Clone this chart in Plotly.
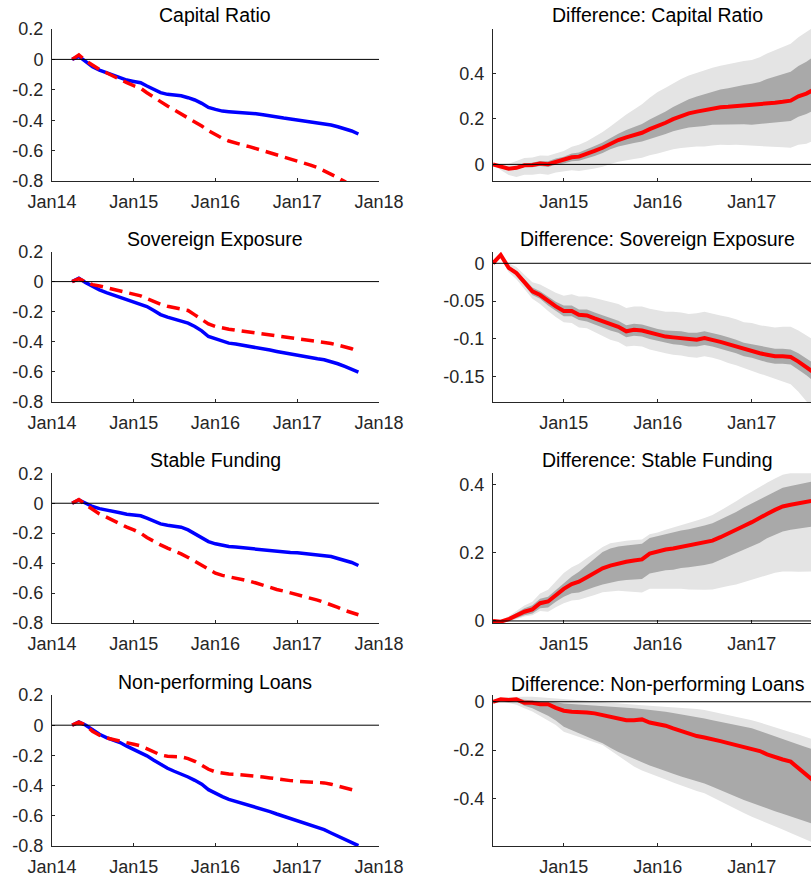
import plotly.graph_objects as go
import pandas as pd

W, H = 811, 881
FONT = "Liberation Sans, Arial, Helvetica, sans-serif"
TXT = "#262626"

# ---------------- data ----------------
left_dates = pd.date_range("2014-04-01", periods=43, freq="MS")
right_dates = left_dates[:42]

titles = ["Capital Ratio", "Sovereign Exposure", "Stable Funding", "Non-performing Loans"]
diff_titles = ["Difference: " + t for t in titles]

cap_blue = [0, 0.02, -0.015, -0.048, -0.07, -0.088, -0.105, -0.12, -0.136, -0.145, -0.153, -0.175, -0.197, -0.219, -0.23, -0.232, -0.239, -0.252, -0.267, -0.289, -0.316, -0.329, -0.34, -0.344, -0.346, -0.348, -0.353, -0.357, -0.364, -0.373, -0.379, -0.386, -0.392, -0.399, -0.405, -0.412, -0.416, -0.423, -0.432, -0.443, -0.456, -0.471, -0.491]
cap_red = [0, 0.03, -0.01, -0.04, -0.066, -0.088, -0.11, -0.136, -0.153, -0.173, -0.19, -0.219, -0.252, -0.278, -0.307, -0.333, -0.359, -0.381, -0.412, -0.438, -0.469, -0.497, -0.519, -0.537, -0.552, -0.563, -0.574, -0.587, -0.601, -0.618, -0.631, -0.644, -0.655, -0.668, -0.682, -0.695, -0.712, -0.732, -0.754, -0.778, -0.804, -0.83, -0.86]
sov_blue = [0, 0.022, -0.007, -0.033, -0.055, -0.073, -0.088, -0.106, -0.122, -0.135, -0.148, -0.166, -0.192, -0.219, -0.236, -0.248, -0.259, -0.276, -0.298, -0.327, -0.365, -0.382, -0.398, -0.409, -0.415, -0.422, -0.429, -0.435, -0.444, -0.455, -0.464, -0.473, -0.482, -0.488, -0.497, -0.504, -0.513, -0.519, -0.53, -0.546, -0.564, -0.581, -0.601]
sov_red = [0, 0.02, -0.002, -0.02, -0.029, -0.04, -0.051, -0.062, -0.073, -0.082, -0.095, -0.113, -0.133, -0.15, -0.164, -0.172, -0.179, -0.192, -0.221, -0.254, -0.281, -0.298, -0.309, -0.316, -0.323, -0.329, -0.336, -0.343, -0.349, -0.356, -0.362, -0.369, -0.376, -0.38, -0.385, -0.391, -0.398, -0.404, -0.411, -0.422, -0.433, -0.446, -0.466]
sf_blue = [0, 0.022, 0, -0.022, -0.036, -0.047, -0.056, -0.064, -0.073, -0.078, -0.084, -0.1, -0.118, -0.138, -0.147, -0.151, -0.16, -0.178, -0.204, -0.233, -0.256, -0.271, -0.282, -0.289, -0.293, -0.298, -0.302, -0.307, -0.313, -0.318, -0.322, -0.324, -0.329, -0.331, -0.336, -0.34, -0.342, -0.347, -0.356, -0.369, -0.382, -0.396, -0.416]
sf_red = [0, 0.025, -0.011, -0.044, -0.071, -0.093, -0.116, -0.138, -0.16, -0.178, -0.2, -0.229, -0.256, -0.278, -0.3, -0.318, -0.338, -0.362, -0.389, -0.418, -0.444, -0.467, -0.482, -0.491, -0.498, -0.507, -0.52, -0.533, -0.549, -0.562, -0.576, -0.587, -0.598, -0.609, -0.62, -0.633, -0.647, -0.662, -0.678, -0.696, -0.716, -0.729, -0.745]
npl_blue = [0, 0.022, 0, -0.033, -0.06, -0.082, -0.099, -0.115, -0.139, -0.161, -0.179, -0.203, -0.232, -0.261, -0.285, -0.305, -0.323, -0.343, -0.365, -0.391, -0.427, -0.453, -0.473, -0.491, -0.504, -0.517, -0.528, -0.541, -0.557, -0.572, -0.588, -0.603, -0.616, -0.632, -0.645, -0.661, -0.674, -0.692, -0.714, -0.736, -0.758, -0.78, -0.798]
npl_red = [0, 0.02, 0, -0.04, -0.066, -0.084, -0.095, -0.104, -0.115, -0.126, -0.137, -0.155, -0.177, -0.197, -0.206, -0.206, -0.21, -0.221, -0.239, -0.265, -0.292, -0.309, -0.318, -0.323, -0.325, -0.329, -0.331, -0.336, -0.343, -0.349, -0.356, -0.362, -0.367, -0.371, -0.373, -0.376, -0.378, -0.382, -0.391, -0.402, -0.413, -0.424, -0.438]

cap_diff = [0, -0.01, -0.019, -0.015, -0.004, -0.003, 0.004, 0.001, 0.012, 0.019, 0.031, 0.034, 0.045, 0.059, 0.073, 0.092, 0.107, 0.119, 0.129, 0.139, 0.155, 0.168, 0.183, 0.199, 0.212, 0.224, 0.232, 0.239, 0.246, 0.251, 0.253, 0.256, 0.258, 0.259, 0.261, 0.267, 0.271, 0.275, 0.28, 0.299, 0.311, 0.33]
cap_hi68 = [0, -0.008, -0.015, -0.009, 0.004, 0.007, 0.015, 0.014, 0.026, 0.034, 0.048, 0.052, 0.065, 0.081, 0.096, 0.117, 0.135, 0.151, 0.164, 0.177, 0.197, 0.213, 0.232, 0.252, 0.270, 0.286, 0.298, 0.309, 0.320, 0.329, 0.335, 0.343, 0.349, 0.354, 0.362, 0.375, 0.385, 0.395, 0.407, 0.432, 0.451, 0.475]
cap_lo68 = [0, -0.012, -0.023, -0.021, -0.012, -0.013, -0.007, -0.012, -0.002, 0.004, 0.014, 0.016, 0.025, 0.037, 0.050, 0.067, 0.079, 0.087, 0.094, 0.101, 0.113, 0.123, 0.134, 0.146, 0.154, 0.162, 0.166, 0.169, 0.174, 0.176, 0.176, 0.176, 0.176, 0.174, 0.175, 0.180, 0.184, 0.187, 0.191, 0.209, 0.221, 0.238]
cap_hi90 = [0, 0.002, 0.003, 0.015, 0.028, 0.030, 0.039, 0.038, 0.050, 0.059, 0.077, 0.086, 0.102, 0.122, 0.142, 0.167, 0.195, 0.219, 0.241, 0.264, 0.293, 0.318, 0.337, 0.357, 0.375, 0.391, 0.403, 0.414, 0.425, 0.434, 0.441, 0.448, 0.454, 0.459, 0.471, 0.487, 0.501, 0.515, 0.530, 0.559, 0.581, 0.605]
cap_lo90 = [0, -0.025, -0.047, -0.055, -0.046, -0.046, -0.041, -0.046, -0.036, -0.031, -0.026, -0.029, -0.025, -0.018, -0.010, 0.002, 0.012, 0.019, 0.024, 0.029, 0.040, 0.048, 0.056, 0.066, 0.072, 0.077, 0.079, 0.079, 0.083, 0.086, 0.085, 0.086, 0.085, 0.084, 0.080, 0.079, 0.077, 0.075, 0.073, 0.086, 0.091, 0.105]

sov_diff = [0, 0.011, -0.006, -0.013, -0.025, -0.037, -0.042, -0.050, -0.057, -0.063, -0.063, -0.068, -0.069, -0.073, -0.077, -0.081, -0.084, -0.090, -0.088, -0.089, -0.092, -0.095, -0.097, -0.098, -0.099, -0.101, -0.101, -0.099, -0.101, -0.104, -0.107, -0.110, -0.114, -0.116, -0.119, -0.121, -0.123, -0.123, -0.124, -0.130, -0.137, -0.145]
sov_hi68 = [0, 0.012, -0.004, -0.010, -0.021, -0.032, -0.037, -0.044, -0.051, -0.056, -0.056, -0.061, -0.061, -0.065, -0.069, -0.073, -0.076, -0.082, -0.080, -0.081, -0.084, -0.087, -0.089, -0.089, -0.090, -0.092, -0.092, -0.090, -0.092, -0.095, -0.098, -0.101, -0.105, -0.107, -0.110, -0.111, -0.113, -0.113, -0.114, -0.119, -0.126, -0.133]
sov_lo68 = [0, 0.010, -0.008, -0.016, -0.029, -0.042, -0.047, -0.056, -0.063, -0.070, -0.070, -0.075, -0.077, -0.081, -0.085, -0.089, -0.092, -0.098, -0.096, -0.097, -0.100, -0.103, -0.105, -0.107, -0.108, -0.110, -0.110, -0.108, -0.110, -0.113, -0.116, -0.119, -0.123, -0.125, -0.128, -0.131, -0.133, -0.133, -0.134, -0.141, -0.148, -0.157]
sov_hi90 = [0, 0.014, 0.000, -0.005, -0.015, -0.025, -0.028, -0.034, -0.039, -0.043, -0.041, -0.044, -0.044, -0.046, -0.049, -0.051, -0.054, -0.059, -0.057, -0.057, -0.060, -0.062, -0.064, -0.064, -0.065, -0.067, -0.066, -0.064, -0.066, -0.069, -0.071, -0.074, -0.078, -0.079, -0.082, -0.083, -0.085, -0.084, -0.084, -0.089, -0.095, -0.102]
sov_lo90 = [0, 0.008, -0.012, -0.021, -0.034, -0.047, -0.054, -0.063, -0.071, -0.078, -0.079, -0.085, -0.086, -0.091, -0.096, -0.101, -0.104, -0.110, -0.109, -0.110, -0.114, -0.117, -0.119, -0.121, -0.122, -0.124, -0.125, -0.123, -0.125, -0.128, -0.132, -0.135, -0.139, -0.142, -0.146, -0.149, -0.153, -0.156, -0.160, -0.170, -0.182, -0.195]

sf_diff = [0, -0.002, 0.005, 0.016, 0.027, 0.034, 0.052, 0.057, 0.076, 0.094, 0.108, 0.115, 0.128, 0.141, 0.154, 0.162, 0.169, 0.173, 0.177, 0.180, 0.197, 0.204, 0.209, 0.212, 0.217, 0.220, 0.224, 0.229, 0.235, 0.245, 0.255, 0.266, 0.278, 0.289, 0.300, 0.313, 0.325, 0.335, 0.340, 0.344, 0.349, 0.353]
sf_hi68 = [0, 0.000, 0.010, 0.023, 0.037, 0.046, 0.065, 0.071, 0.091, 0.110, 0.130, 0.144, 0.164, 0.183, 0.202, 0.212, 0.218, 0.221, 0.224, 0.226, 0.243, 0.249, 0.255, 0.259, 0.265, 0.268, 0.273, 0.279, 0.286, 0.297, 0.308, 0.319, 0.332, 0.344, 0.355, 0.368, 0.380, 0.390, 0.395, 0.399, 0.404, 0.409]
sf_lo68 = [0, -0.004, 0.000, 0.009, 0.017, 0.022, 0.037, 0.039, 0.056, 0.071, 0.081, 0.083, 0.091, 0.099, 0.107, 0.112, 0.117, 0.120, 0.122, 0.123, 0.139, 0.144, 0.148, 0.150, 0.155, 0.157, 0.160, 0.164, 0.169, 0.178, 0.187, 0.198, 0.209, 0.219, 0.229, 0.242, 0.253, 0.262, 0.267, 0.270, 0.274, 0.277]
sf_hi90 = [0, 0.002, 0.014, 0.029, 0.045, 0.056, 0.080, 0.091, 0.116, 0.140, 0.157, 0.167, 0.184, 0.200, 0.216, 0.227, 0.232, 0.235, 0.237, 0.238, 0.254, 0.259, 0.267, 0.273, 0.281, 0.287, 0.294, 0.301, 0.310, 0.323, 0.336, 0.350, 0.365, 0.379, 0.391, 0.404, 0.417, 0.428, 0.433, 0.438, 0.444, 0.449]
sf_lo90 = [0, -0.005, -0.002, 0.006, 0.013, 0.017, 0.029, 0.027, 0.040, 0.052, 0.060, 0.062, 0.069, 0.076, 0.084, 0.086, 0.088, 0.086, 0.085, 0.083, 0.094, 0.096, 0.096, 0.094, 0.094, 0.092, 0.091, 0.091, 0.092, 0.097, 0.102, 0.107, 0.114, 0.120, 0.126, 0.134, 0.141, 0.145, 0.145, 0.144, 0.144, 0.145]

npl_diff = [0, 0.010, 0.007, 0.010, -0.004, -0.004, -0.010, -0.010, -0.025, -0.037, -0.041, -0.041, -0.044, -0.048, -0.055, -0.062, -0.069, -0.076, -0.076, -0.073, -0.086, -0.092, -0.099, -0.110, -0.121, -0.134, -0.142, -0.148, -0.154, -0.163, -0.171, -0.179, -0.189, -0.196, -0.204, -0.218, -0.230, -0.239, -0.248, -0.276, -0.301, -0.330]
npl_hi90 = [0, 0.016, 0.020, 0.022, 0.021, 0.021, 0.019, 0.017, 0.014, 0.010, 0.008, 0.006, 0.004, 0.001, -0.002, -0.005, -0.007, -0.010, -0.012, -0.014, -0.016, -0.018, -0.020, -0.022, -0.024, -0.027, -0.030, -0.034, -0.041, -0.048, -0.055, -0.062, -0.069, -0.076, -0.086, -0.096, -0.106, -0.116, -0.126, -0.136, -0.146, -0.157]
npl_hi68 = [0, 0.013, 0.013, 0.015, 0.008, 0.006, 0.003, 0.001, -0.002, -0.007, -0.009, -0.011, -0.013, -0.015, -0.017, -0.019, -0.021, -0.024, -0.027, -0.030, -0.033, -0.036, -0.041, -0.047, -0.052, -0.058, -0.063, -0.069, -0.076, -0.083, -0.089, -0.096, -0.103, -0.110, -0.121, -0.132, -0.143, -0.154, -0.165, -0.177, -0.188, -0.200]
npl_lo68 = [0, 0.006, 0.001, 0.002, -0.017, -0.027, -0.042, -0.058, -0.078, -0.103, -0.117, -0.131, -0.145, -0.158, -0.172, -0.190, -0.208, -0.223, -0.237, -0.250, -0.264, -0.275, -0.286, -0.298, -0.309, -0.320, -0.329, -0.338, -0.352, -0.366, -0.380, -0.393, -0.407, -0.421, -0.432, -0.442, -0.453, -0.463, -0.474, -0.485, -0.496, -0.508]
npl_lo90 = [0, 0.003, -0.005, -0.012, -0.027, -0.040, -0.058, -0.077, -0.096, -0.124, -0.135, -0.146, -0.157, -0.168, -0.179, -0.202, -0.225, -0.247, -0.268, -0.285, -0.298, -0.309, -0.322, -0.334, -0.346, -0.358, -0.369, -0.379, -0.395, -0.411, -0.427, -0.444, -0.460, -0.476, -0.490, -0.503, -0.516, -0.529, -0.543, -0.556, -0.570, -0.585]

left_blue = [cap_blue, sov_blue, sf_blue, npl_blue]
left_red = [cap_red, sov_red, sf_red, npl_red]
right_diff = [cap_diff, sov_diff, sf_diff, npl_diff]
right_bands = [
    (cap_lo90, cap_lo68, cap_hi68, cap_hi90),
    (sov_lo90, sov_lo68, sov_hi68, sov_hi90),
    (sf_lo90, sf_lo68, sf_hi68, sf_hi90),
    (npl_lo90, npl_lo68, npl_hi68, npl_hi90),
]

left_yticks = [-0.8, -0.6, -0.4, -0.2, 0, 0.2]
left_yticktext = ["-0.8", "-0.6", "-0.4", "-0.2", "0", "0.2"]
right_yticks = [[0, 0.2, 0.4], [-0.15, -0.1, -0.05, 0], [0, 0.2, 0.4], [-0.4, -0.2, 0]]
right_yticktext = [["0", "0.2", "0.4"], ["-0.15", "-0.1", "-0.05", "0"], ["0", "0.2", "0.4"], ["-0.4", "-0.2", "0"]]
right_yranges = [(-0.073, 0.595), (-0.1835, 0.0156), (-0.006, 0.432), (-0.597, 0.028)]

left_xticks = ["2014-01-01", "2015-01-01", "2016-01-01", "2017-01-01", "2018-01-01"]
left_xticktext = ["Jan14", "Jan15", "Jan16", "Jan17", "Jan18"]
right_xticks = ["2015-01-01", "2016-01-01", "2017-01-01"]
right_xticktext = ["Jan15", "Jan16", "Jan17"]

# ---------------- layout geometry (pixels) ----------------
rows_px = [(29, 181), (251.5, 402), (473.3, 623), (695, 846)]
left_px = (52, 379)
right_px = (493, 811)
right_full_right = 822  # plot box continues beyond the visible page edge
title_px = [(15.5, 15.5), (239, 239), (460, 460), (682, 683.5)]

LIGHT = "#e4e4e4"
DARK = "#a9a9a9"

fig = go.Figure()
layout = {}
shapes = []
annotations = []


def ax_common():
    return dict(
        showline=True, linecolor=TXT, linewidth=1, mirror=False,
        ticks="inside", ticklen=3, tickcolor=TXT, tickwidth=1,
        showgrid=False, zeroline=False, automargin=False,
        tickfont=dict(family=FONT, size=18, color=TXT),
        fixedrange=True,
    )


for r in range(4):
    top, bot = rows_px[r]
    ydom = [1 - bot / H, 1 - top / H]
    for c in range(2):
        n = r * 2 + c + 1
        xs = "x" if n == 1 else f"x{n}"
        ys = "y" if n == 1 else f"y{n}"
        xa = ax_common()
        ya = ax_common()
        ya["domain"] = ydom
        ya["anchor"] = xs
        ya["ticklabelstandoff"] = 4
        xa["anchor"] = ys
        xa["ticklabelstandoff"] = 4
        if c == 0:
            xa.update(domain=[left_px[0] / W, left_px[1] / W], type="date",
                      range=["2014-01-01", "2018-01-01"],
                      tickvals=left_xticks, ticktext=left_xticktext)
            ya.update(range=[-0.8, 0.2], tickvals=left_yticks, ticktext=left_yticktext)
            fig.add_trace(go.Scatter(x=left_dates, y=left_blue[r], mode="lines",
                                     line=dict(color="#0000ff", width=3.5),
                                     xaxis=xs, yaxis=ys, showlegend=False, hoverinfo="skip"))
            fig.add_trace(go.Scatter(x=left_dates, y=left_red[r], mode="lines",
                                     line=dict(color="#ff0000", width=3.5, dash="13px,7px"),
                                     xaxis=xs, yaxis=ys, showlegend=False, hoverinfo="skip"))
            cx = (left_px[0] + left_px[1]) / 2
            ty = title_px[r][0]
            ttl = titles[r]
        else:
            xa.update(domain=[right_px[0] / W, right_px[1] / W], type="date",
                      range=["2014-04-01", "2017-08-19"],
                      tickvals=right_xticks, ticktext=right_xticktext)
            ya.update(range=list(right_yranges[r]), tickvals=right_yticks[r],
                      ticktext=right_yticktext[r])
            lo90, lo68, hi68, hi90 = right_bands[r]
            xx = list(right_dates) + list(right_dates[::-1])
            fig.add_trace(go.Scatter(x=xx, y=list(hi90) + list(lo90[::-1]), fill="toself",
                                     fillcolor=LIGHT, mode="lines", line=dict(width=0, color=LIGHT),
                                     xaxis=xs, yaxis=ys, showlegend=False, hoverinfo="skip"))
            fig.add_trace(go.Scatter(x=xx, y=list(hi68) + list(lo68[::-1]), fill="toself",
                                     fillcolor=DARK, mode="lines", line=dict(width=0, color=DARK),
                                     xaxis=xs, yaxis=ys, showlegend=False, hoverinfo="skip"))
            fig.add_trace(go.Scatter(x=right_dates, y=right_diff[r], mode="lines",
                                     line=dict(color="#ff0000", width=4),
                                     xaxis=xs, yaxis=ys, showlegend=False, hoverinfo="skip"))
            cx = (right_px[0] + right_full_right) / 2
            ty = title_px[r][1]
            ttl = diff_titles[r]
        layout["xaxis" if n == 1 else f"xaxis{n}"] = xa
        layout["yaxis" if n == 1 else f"yaxis{n}"] = ya
        shapes.append(dict(type="line", xref=f"{xs} domain", x0=0, x1=1, yref=ys, y0=0, y1=0,
                           line=dict(color="black", width=1), layer="above"))
        annotations.append(dict(text=ttl, x=cx / W, y=1 - ty / H, xref="paper", yref="paper",
                                xanchor="center", yanchor="middle", showarrow=False,
                                font=dict(family=FONT, size=19.5, color="#000000")))

fig.update_layout(**layout)
fig.update_layout(
    template="none",
    width=W, height=H,
    margin=dict(l=0, r=0, t=0, b=0, pad=0, autoexpand=False),
    paper_bgcolor="white", plot_bgcolor="white",
    shapes=shapes, annotations=annotations,
    showlegend=False,
    font=dict(family=FONT, color=TXT),
)

fig.write_html(
    "out.html",
    config={"displayModeBar": False},
    post_script="document.body.style.margin='0';document.body.style.overflow='hidden';",
)
